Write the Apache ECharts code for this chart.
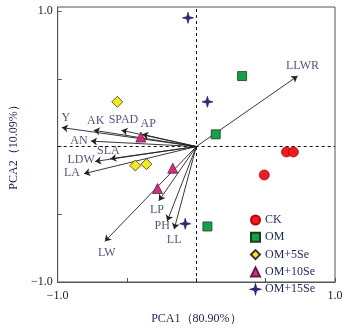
<!DOCTYPE html>
<html><head><meta charset="utf-8">
<script src="https://cdn.jsdelivr.net/npm/echarts@6/dist/echarts.min.js"></script>
<style>html,body{margin:0;padding:0;background:#fff}#c{width:353px;height:330px}</style>
</head><body><div id="c"></div>
<script>
// Loading vectors
const vectorNames = ['Y','AK','SPAD','AP','AN','SLA','LDW','LA','LW','LP','PH','LL','LLWR'];
const vectorX = [-0.97,-0.74,-0.54,-0.39,-0.76,-0.62,-0.73,-0.81,-0.66,-0.27,-0.21,-0.16,0.73];
const vectorY = [0.14,0.12,0.12,0.09,0.04,-0.09,-0.11,-0.20,-0.70,-0.40,-0.55,-0.61,0.52];
// Sample scores
const groupNames = ['CK','OM','OM+5Se','OM+10Se','OM+15Se'];
const ckX = [0.65,0.70,0.49],      ckY = [-0.04,-0.04,-0.21];
const omX = [0.33,0.14,0.08],      omY = [0.52,0.09,-0.59];
const om5X = [-0.57,-0.44,-0.36],  om5Y = [0.33,-0.14,-0.13];
const om10X = [-0.40,-0.17,-0.28], om10Y = [0.07,-0.16,-0.31];
const om15X = [-0.06,0.08,-0.08],  om15Y = [0.95,0.33,-0.57];
const xTickLabels = ['−1.0','1.0'];
const yTickLabels = ['−1.0','1.0'];

// styles (label offsets in px, not data)
const labelOffsets = {Y:[4,-10],AK:[2,-9],SPAD:[2,-10],AP:[6,-10],AN:[-12,0],SLA:[-2,-8],LDW:[-14,-2],LA:[-12,-1],LW:[2,11],LP:[-2,9],PH:[-5,5],LL:[0,11],LLWR:[5,-10]};
const FONT = 'Liberation Serif';
const TXT = '#1c2654';
const star = 'path://M0,-10 L2.2,-2.2 L10,0 L2.2,2.2 L0,10 L-2.2,2.2 L-10,0 L-2.2,-2.2Z';
const starLegend = 'path://M0,-10 L2.2,-2.2 L10,0 L2.2,2.2 L0,10 L-2.2,2.2 L-10,0 L-2.2,-2.2Z M-13,-13 L-13,-13 M13,13 L13,13';

function pts(xs, ys){ return xs.map((x,i)=>[x, ys[i]]); }
const groups = [
  {name:groupNames[0], data:pts(ckX,ckY), symbol:'circle', size:10, color:'#ec1c24', border:'#b00'},
  {name:groupNames[1], data:pts(omX,omY), symbol:'rect', size:9, color:'#16a04a', border:'#1a3a20'},
  {name:groupNames[2], data:pts(om5X,om5Y), symbol:'diamond', size:11, color:'#f7ea1a', border:'#333'},
  {name:groupNames[3], data:pts(om10X,om10Y), symbol:'triangle', size:10, color:'#c8327f', border:'#6a1a40'},
  {name:groupNames[4], data:pts(om15X,om15Y), symbol:star, size:11, color:'#2b2b70', border:'#2b2b70'}
];

const lineData = vectorNames.map((n,i)=>({coords:[[0,0],[vectorX[i],vectorY[i]]]}));
const labelData = vectorNames.map((n,i)=>({name:n, value:[vectorX[i],vectorY[i]], label:{offset:labelOffsets[n]}}));

const chart = echarts.init(document.getElementById('c'));
chart.setOption({
  animation:false,
  textStyle:{fontFamily:FONT},
  grid:{left:55, right:18, top:7, bottom:43, show:true, borderColor:'#555', borderWidth:1},
  xAxis:{type:'value', min:-1, max:1, interval:0.5,
    name:'PCA1（80.90%）', nameLocation:'middle', nameGap:31,
    nameTextStyle:{fontFamily:FONT, fontSize:12, color:TXT},
    axisLine:{show:true, onZero:false, lineStyle:{color:'#555'}},
    axisTick:{show:true, inside:true, length:4, lineStyle:{color:'#555'}},
    splitLine:{show:false},
    axisLabel:{margin:8, fontFamily:FONT, fontSize:12, color:'#222',
      formatter:v=> v===-1 ? xTickLabels[0] : (v===1 ? xTickLabels[1] : '')}},
  yAxis:{type:'value', min:-1, max:1.03, interval:0.5,
    name:'PCA2（10.09%）', nameLocation:'middle', nameGap:33,
    nameTextStyle:{fontFamily:FONT, fontSize:12, color:TXT},
    axisLine:{show:true, onZero:false, lineStyle:{color:'#555'}},
    axisTick:{show:true, inside:true, length:4, lineStyle:{color:'#555'}},
    splitLine:{show:false},
    axisLabel:{margin:5, fontFamily:FONT, fontSize:12, color:'#222', showMaxLabel:false,
      formatter:v=> v===-1 ? yTickLabels[0] : (v===1 ? yTickLabels[1] : '')}},
  legend:{orient:'vertical', left:245, top:209, itemWidth:9, itemHeight:9, itemGap:5.3,
    textStyle:{fontFamily:FONT, fontSize:12, color:TXT},
    data:groupNames.map((n,i)=> i===4 ? {name:n, icon:starLegend} : {name:n})},
  series:[
    {type:'lines', coordinateSystem:'cartesian2d', silent:true, z:3,
     symbol:['none','arrow'], symbolSize:6,
     lineStyle:{color:'#222', width:0.9, opacity:1},
     data:lineData,
     markLine:{silent:true, symbol:['none','none'], label:{show:false},
       lineStyle:{type:[3,3], color:'#111', width:1},
       data:[{xAxis:0},{yAxis:0}]}},
    {type:'scatter', symbolSize:0, silent:true, z:4,
     label:{show:true, position:'inside', formatter:p=>p.name, fontFamily:FONT, fontSize:12, color:TXT},
     data:labelData},
    ...groups.map(g=>({type:'scatter', name:g.name, symbol:g.symbol, symbolSize:g.size, z:5,
      itemStyle:{color:g.color, borderColor:g.border, borderWidth:0.8, opacity:1},
      data:g.data}))
  ]
});
</script></body></html>
